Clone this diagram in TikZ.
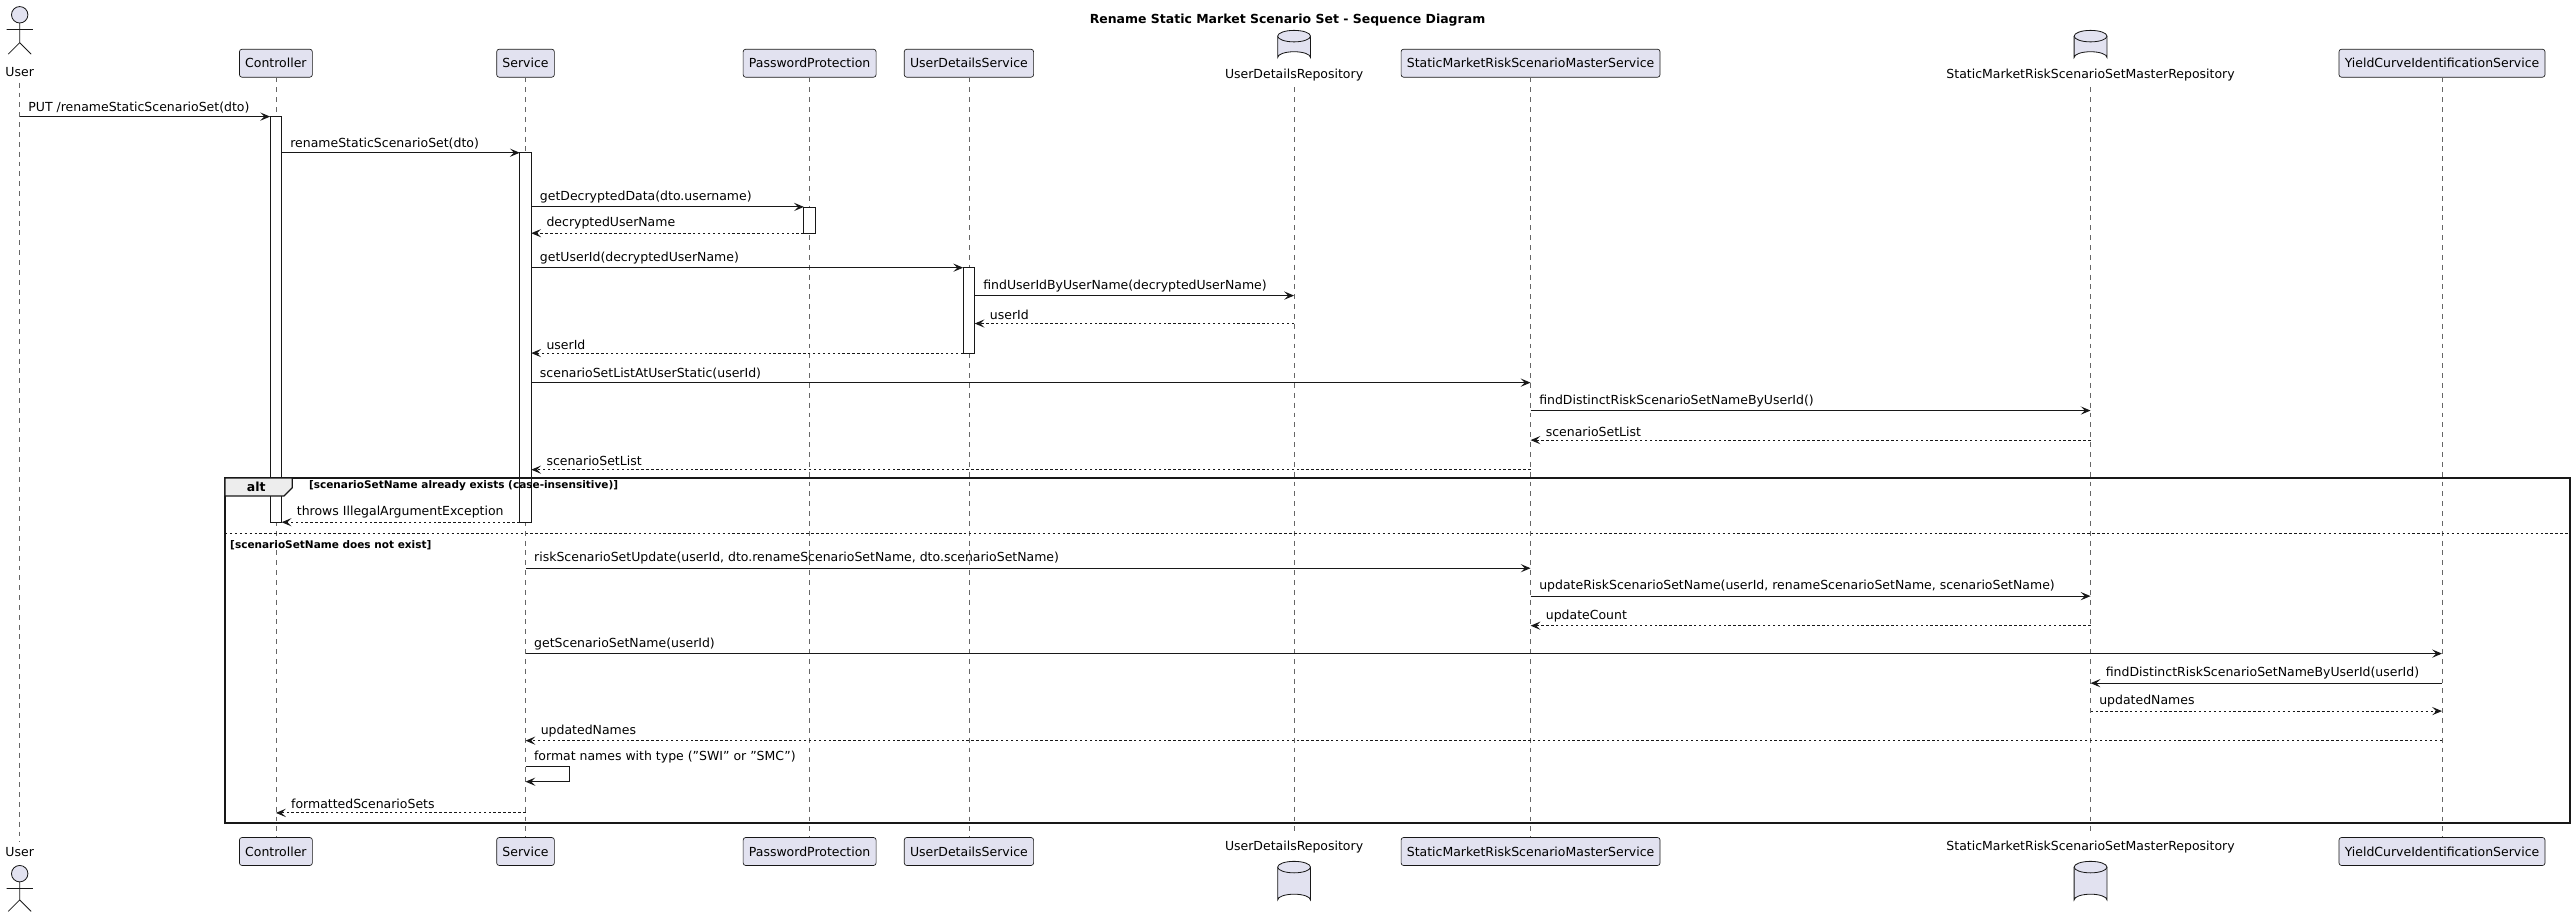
\documentclass[tikz,border=0pt]{standalone}
\usepackage{fontspec}
\setmainfont{DejaVu Sans}
\usetikzlibrary{arrows.meta}
\definecolor{partfill}{RGB}{226,226,240}
\definecolor{partline}{RGB}{24,24,24}
\tikzset{
  every node/.style={font=\fontsize{7.6}{9}\selectfont},
  part/.style={draw=partline,fill=partfill,rounded corners=1.5pt,minimum height=17pt,inner xsep=3.5pt,inner ysep=0pt},
  life/.style={draw=black!60,dash pattern=on 3pt off 3pt,line width=0.4pt},
  act/.style={draw=partline,fill=white,line width=0.5pt},
  msg/.style={draw=partline,line width=0.6pt,-{Stealth[length=6pt,width=5pt,inset=2.5pt]}},
  ret/.style={msg,dash pattern=on 1.5pt off 1.5pt},
  lbl/.style={inner sep=1pt,anchor=south west},
  guard/.style={font=\fontsize{6.4}{8}\bfseries\selectfont,inner sep=1pt},
  dbase/.style={draw=partline,fill=partfill,line width=0.5pt}
}
\begin{document}
\begin{tikzpicture}[x=1pt,y=-1pt]
\useasboundingbox (0,0) rectangle (1568,559);

% title
\node[font=\fontsize{7.6}{9}\bfseries\selectfont] (title) at (784,12) {Rename Static Market Scenario Set - Sequence Diagram};

% actor
\node (userT) at (12,44) {User};
\node (userB) at (12,519) {User};
\draw[dbase] (12,9) circle (5);
\draw[partline,line width=0.5pt] (12,14) -- (12,26) (4,18) -- (20,18) (5,33) -- (12,26) -- (19,33);
\draw[dbase] (12,532) circle (5);
\draw[partline,line width=0.5pt] (12,537) -- (12,548) (4,541) -- (20,541) (5,555) -- (12,548) -- (19,555);

% participants
\node[part] (ctrlT) at (168,38.5) {Controller};
\node[part] (svcT) at (320,38.5) {Service};
\node[part] (pwdT) at (493,38.5) {PasswordProtection};
\node[part] (udsT) at (590,38.5) {UserDetailsService};
\node[part] (smssT) at (932,38.5) {StaticMarketRiskScenarioMasterService};
\node[part] (ycisT) at (1487,38.5) {YieldCurveIdentificationService};
\node[part] (ctrlB) at (168,518.5) {Controller};
\node[part] (svcB) at (320,518.5) {Service};
\node[part] (pwdB) at (493,518.5) {PasswordProtection};
\node[part] (udsB) at (590,518.5) {UserDetailsService};
\node[part] (smssB) at (932,518.5) {StaticMarketRiskScenarioMasterService};
\node[part] (ycisB) at (1487,518.5) {YieldCurveIdentificationService};

% databases
\foreach \dx in {788,1273}{
  \draw[dbase] (\dx-10,22) -- (\dx-10,35) arc[start angle=180,end angle=360,x radius=10,y radius=3.5] -- (\dx+10,22) arc[start angle=0,end angle=-180,x radius=10,y radius=3.5] -- cycle;
  \draw[dbase] (\dx+10,22) arc[start angle=0,end angle=180,x radius=10,y radius=3.5];
  \draw[dbase] (\dx-10,528) -- (\dx-10,548) arc[start angle=180,end angle=360,x radius=10,y radius=3.5] -- (\dx+10,528) arc[start angle=0,end angle=-180,x radius=10,y radius=3.5] -- cycle;
  \draw[dbase] (\dx+10,528) arc[start angle=0,end angle=180,x radius=10,y radius=3.5];
}
\node (udrT) at (788,46) {UserDetailsRepository};
\node (udrB) at (788,516) {UserDetailsRepository};
\node (smsrT) at (1273,46) {StaticMarketRiskScenarioSetMasterRepository};
\node (smsrB) at (1273,516) {StaticMarketRiskScenarioSetMasterRepository};

% lifelines
\foreach \p in {user,ctrl,svc,pwd,uds,udr,smss,smsr,ycis}
  \draw[life] (\p T) -- (\p B);

% activations
\draw[act] (164.5,71) rectangle (171.5,318);
\draw[act] (316.5,93) rectangle (323.5,318);
\draw[act] (489.5,126) rectangle (496.5,142);
\draw[act] (586.5,163) rectangle (593.5,215);

% messages
\draw[msg] (userT |- 0,71) -- ([xshift=-3.5pt]ctrlT |- 0,71) node[lbl,pos=0,xshift=4pt,yshift=1pt] {PUT /renameStaticScenarioSet(dto)};
\draw[msg] ([xshift=3.5pt]ctrlT |- 0,93) -- ([xshift=-3.5pt]svcT |- 0,93) node[lbl,pos=0,xshift=4pt,yshift=1pt] {renameStaticScenarioSet(dto)};
\draw[msg] ([xshift=3.5pt]svcT |- 0,126) -- ([xshift=-3.5pt]pwdT |- 0,126) node[lbl,pos=0,xshift=4pt,yshift=1pt] {getDecryptedData(dto.username)};
\draw[ret] ([xshift=-3.5pt]pwdT |- 0,142) -- ([xshift=3.5pt]svcT |- 0,142) node[lbl,pos=1,xshift=8pt,yshift=1pt] {decryptedUserName};
\draw[msg] ([xshift=3.5pt]svcT |- 0,163) -- ([xshift=-3.5pt]udsT |- 0,163) node[lbl,pos=0,xshift=4pt,yshift=1pt] {getUserId(decryptedUserName)};
\draw[msg] ([xshift=3.5pt]udsT |- 0,180) -- (udrT |- 0,180) node[lbl,pos=0,xshift=4pt,yshift=1pt] {findUserIdByUserName(decryptedUserName)};
\draw[ret] (udrT |- 0,197) -- ([xshift=3.5pt]udsT |- 0,197) node[lbl,pos=1,xshift=8pt,yshift=1pt] {userId};
\draw[ret] ([xshift=-3.5pt]udsT |- 0,215) -- ([xshift=3.5pt]svcT |- 0,215) node[lbl,pos=1,xshift=8pt,yshift=1pt] {userId};
\draw[msg] ([xshift=3.5pt]svcT |- 0,233) -- (smssT |- 0,233) node[lbl,pos=0,xshift=4pt,yshift=1pt] {scenarioSetListAtUserStatic(userId)};
\draw[msg] (smssT |- 0,250) -- (smsrT |- 0,250) node[lbl,pos=0,xshift=4pt,yshift=1pt] {findDistinctRiskScenarioSetNameByUserId()};
\draw[ret] (smsrT |- 0,268) -- (smssT |- 0,268) node[lbl,pos=1,xshift=8pt,yshift=1pt] {scenarioSetList};
\draw[ret] (smssT |- 0,286) -- ([xshift=3.5pt]svcT |- 0,286) node[lbl,pos=1,xshift=8pt,yshift=1pt] {scenarioSetList};

% alt frame
\draw[line width=1.2pt,draw=partline] (137,291) rectangle (1565,501);
\draw[fill=black!7,line width=0.8pt,draw=partline] (137,291) -- (178,291) -- (178,297) -- (173,302) -- (137,302) -- cycle;
\node[guard,font=\fontsize{7.6}{9}\bfseries\selectfont] (altTag) at (156,296.5) {alt};
\node[guard,anchor=west] (guardA) at (187,296) {[scenarioSetName already exists (case-insensitive)]};
\draw[partline,line width=0.5pt,dash pattern=on 1.5pt off 1.5pt] (137,325) -- (1565,325);
\node[guard,anchor=west] (guardB) at (139,332) {[scenarioSetName does not exist]};

\draw[ret] ([xshift=-3.5pt]svcT |- 0,318) -- ([xshift=3.5pt]ctrlT |- 0,318) node[lbl,pos=1,xshift=8pt,yshift=1pt] {throws IllegalArgumentException};
\draw[msg] (svcT |- 0,346) -- (smssT |- 0,346) node[lbl,pos=0,xshift=4pt,yshift=1pt] {riskScenarioSetUpdate(userId, dto.renameScenarioSetName, dto.scenarioSetName)};
\draw[msg] (smssT |- 0,363) -- (smsrT |- 0,363) node[lbl,pos=0,xshift=4pt,yshift=1pt] {updateRiskScenarioSetName(userId, renameScenarioSetName, scenarioSetName)};
\draw[ret] (smsrT |- 0,381) -- (smssT |- 0,381) node[lbl,pos=1,xshift=8pt,yshift=1pt] {updateCount};
\draw[msg] (svcT |- 0,398) -- (ycisT |- 0,398) node[lbl,pos=0,xshift=4pt,yshift=1pt] {getScenarioSetName(userId)};
\draw[msg] (ycisT |- 0,416) -- (smsrT |- 0,416) node[lbl,pos=1,xshift=8pt,yshift=1pt] {findDistinctRiskScenarioSetNameByUserId(userId)};
\draw[ret] (smsrT |- 0,433) -- (ycisT |- 0,433) node[lbl,pos=0,xshift=4pt,yshift=1pt] {updatedNames};
\draw[ret] (ycisT |- 0,451) -- (svcT |- 0,451) node[lbl,pos=1,xshift=8pt,yshift=1pt] {updatedNames};
\draw[msg] (svcT |- 0,467) -- ++(27,0) -- ++(0,9) -- (svcT |- 0,476);
\node[lbl] (fmt) at (324,466) {format names with type ("SWI" or "SMC")};
\draw[ret] (svcT |- 0,495) -- (ctrlT |- 0,495) node[lbl,pos=1,xshift=8pt,yshift=1pt] {formattedScenarioSets};
\end{tikzpicture}
\end{document}
